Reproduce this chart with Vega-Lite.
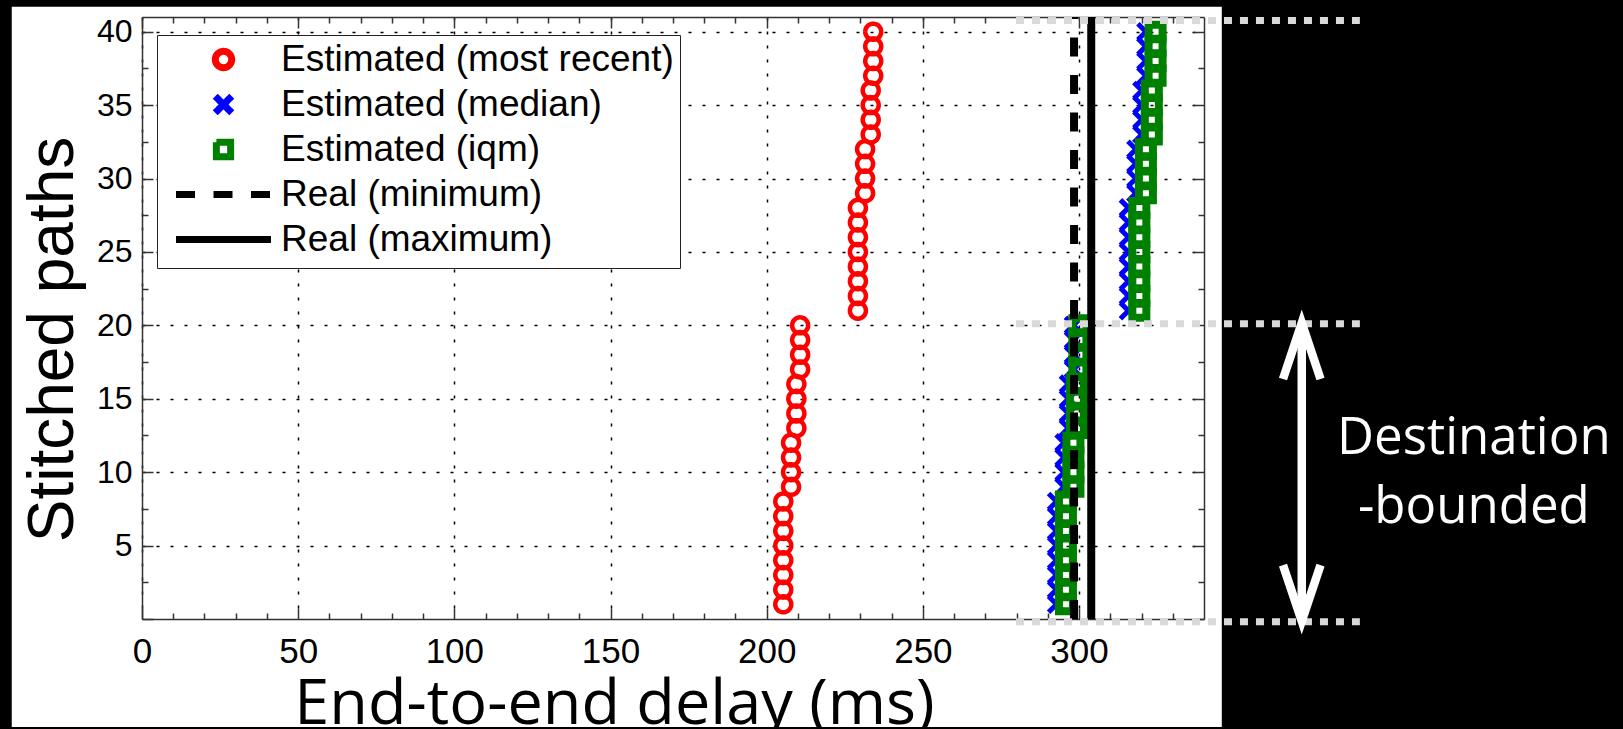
{
  "$schema": "https://vega.github.io/schema/vega-lite/v6.json",
  "width": 1062,
  "height": 602,
  "autosize": {"type": "none"},
  "padding": {"left": 142, "top": 17, "right": 419, "bottom": 110},
  "background": "white",
  "config": {
    "view": {"stroke": null},
    "legend": {
      "orient": "none", "legendX": 15, "legendY": 18, "title": null,
      "fillColor": "white", "strokeColor": "#222", "padding": 6,
      "labelFont": "Liberation Sans", "labelFontSize": 37, "labelColor": "#000", "labelLimit": 1000,
      "symbolSize": 529, "symbolStrokeWidth": 7, "symbolOffset": 42, "labelOffset": 39, "rowPadding": 0,
      "symbolFillColor": "transparent"
    }
  },
  "datasets": {
    "red": [
      {"series": "Estimated (most recent)", "path": 1, "delay": 205.3}, {"series": "Estimated (most recent)", "path": 2, "delay": 205.3},
      {"series": "Estimated (most recent)", "path": 3, "delay": 205.3}, {"series": "Estimated (most recent)", "path": 4, "delay": 205.3},
      {"series": "Estimated (most recent)", "path": 5, "delay": 205.3}, {"series": "Estimated (most recent)", "path": 6, "delay": 205.3},
      {"series": "Estimated (most recent)", "path": 7, "delay": 205.3}, {"series": "Estimated (most recent)", "path": 8, "delay": 205.3},
      {"series": "Estimated (most recent)", "path": 9, "delay": 207.8}, {"series": "Estimated (most recent)", "path": 10, "delay": 207.8},
      {"series": "Estimated (most recent)", "path": 11, "delay": 207.8}, {"series": "Estimated (most recent)", "path": 12, "delay": 207.8},
      {"series": "Estimated (most recent)", "path": 13, "delay": 209.5}, {"series": "Estimated (most recent)", "path": 14, "delay": 209.5},
      {"series": "Estimated (most recent)", "path": 15, "delay": 209.5}, {"series": "Estimated (most recent)", "path": 16, "delay": 209.5},
      {"series": "Estimated (most recent)", "path": 17, "delay": 210.7}, {"series": "Estimated (most recent)", "path": 18, "delay": 210.7},
      {"series": "Estimated (most recent)", "path": 19, "delay": 210.7}, {"series": "Estimated (most recent)", "path": 20, "delay": 210.7},
      {"series": "Estimated (most recent)", "path": 21, "delay": 229.2}, {"series": "Estimated (most recent)", "path": 22, "delay": 229.2},
      {"series": "Estimated (most recent)", "path": 23, "delay": 229.2}, {"series": "Estimated (most recent)", "path": 24, "delay": 229.2},
      {"series": "Estimated (most recent)", "path": 25, "delay": 229.2}, {"series": "Estimated (most recent)", "path": 26, "delay": 229.2},
      {"series": "Estimated (most recent)", "path": 27, "delay": 229.2}, {"series": "Estimated (most recent)", "path": 28, "delay": 229.2},
      {"series": "Estimated (most recent)", "path": 29, "delay": 231.5}, {"series": "Estimated (most recent)", "path": 30, "delay": 231.5},
      {"series": "Estimated (most recent)", "path": 31, "delay": 231.5}, {"series": "Estimated (most recent)", "path": 32, "delay": 231.5},
      {"series": "Estimated (most recent)", "path": 33, "delay": 233.3}, {"series": "Estimated (most recent)", "path": 34, "delay": 233.3},
      {"series": "Estimated (most recent)", "path": 35, "delay": 233.3}, {"series": "Estimated (most recent)", "path": 36, "delay": 233.3},
      {"series": "Estimated (most recent)", "path": 37, "delay": 234.1}, {"series": "Estimated (most recent)", "path": 38, "delay": 234.1},
      {"series": "Estimated (most recent)", "path": 39, "delay": 234.1}, {"series": "Estimated (most recent)", "path": 40, "delay": 234.1}
    ],
    "blue": [
      {"path": 1, "delay": 292.8}, {"path": 2, "delay": 292.8}, {"path": 3, "delay": 292.8}, {"path": 4, "delay": 292.8},
      {"path": 5, "delay": 292.8}, {"path": 6, "delay": 292.8}, {"path": 7, "delay": 292.8}, {"path": 8, "delay": 292.8},
      {"path": 9, "delay": 295.2}, {"path": 10, "delay": 295.2}, {"path": 11, "delay": 295.2}, {"path": 12, "delay": 295.2},
      {"path": 13, "delay": 296.6}, {"path": 14, "delay": 296.6}, {"path": 15, "delay": 296.6}, {"path": 16, "delay": 296.6},
      {"path": 17, "delay": 298.2}, {"path": 18, "delay": 298.2}, {"path": 19, "delay": 298.2}, {"path": 20, "delay": 298.2},
      {"path": 21, "delay": 315.8}, {"path": 22, "delay": 315.8}, {"path": 23, "delay": 315.8}, {"path": 24, "delay": 315.8},
      {"path": 25, "delay": 315.8}, {"path": 26, "delay": 315.8}, {"path": 27, "delay": 315.8}, {"path": 28, "delay": 315.8},
      {"path": 29, "delay": 318.2}, {"path": 30, "delay": 318.2}, {"path": 31, "delay": 318.2}, {"path": 32, "delay": 318.2},
      {"path": 33, "delay": 320.1}, {"path": 34, "delay": 320.1}, {"path": 35, "delay": 320.1}, {"path": 36, "delay": 320.1},
      {"path": 37, "delay": 321.4}, {"path": 38, "delay": 321.4}, {"path": 39, "delay": 321.4}, {"path": 40, "delay": 321.4}
    ],
    "green": [
      {"path": 1, "delay": 295.8}, {"path": 2, "delay": 295.8}, {"path": 3, "delay": 295.8}, {"path": 4, "delay": 295.8},
      {"path": 5, "delay": 295.8}, {"path": 6, "delay": 295.8}, {"path": 7, "delay": 295.8}, {"path": 8, "delay": 295.8},
      {"path": 9, "delay": 298.2}, {"path": 10, "delay": 298.2}, {"path": 11, "delay": 298.2}, {"path": 12, "delay": 298.2},
      {"path": 13, "delay": 299.3}, {"path": 14, "delay": 299.3}, {"path": 15, "delay": 299.3}, {"path": 16, "delay": 299.3},
      {"path": 17, "delay": 300.1}, {"path": 18, "delay": 300.1}, {"path": 19, "delay": 300.1}, {"path": 20, "delay": 300.1},
      {"path": 21, "delay": 319.3}, {"path": 22, "delay": 319.3}, {"path": 23, "delay": 319.3}, {"path": 24, "delay": 319.3},
      {"path": 25, "delay": 319.3}, {"path": 26, "delay": 319.3}, {"path": 27, "delay": 319.3}, {"path": 28, "delay": 319.3},
      {"path": 29, "delay": 321.4}, {"path": 30, "delay": 321.4}, {"path": 31, "delay": 321.4}, {"path": 32, "delay": 321.4},
      {"path": 33, "delay": 323.3}, {"path": 34, "delay": 323.3}, {"path": 35, "delay": 323.3}, {"path": 36, "delay": 323.3},
      {"path": 37, "delay": 324.5}, {"path": 38, "delay": 324.5}, {"path": 39, "delay": 324.5}, {"path": 40, "delay": 324.5}
    ]
  },
  "resolve": {"axis": {"x": "independent", "y": "independent"}},
  "layer": [
    {
      "data": {"values": [{}]},
      "mark": {"type": "rect", "color": "black"},
      "encoding": {
        "x": {"datum": 345.7, "type": "quantitative", "scale": {"domain": [0, 340], "nice": false, "zero": false}, "axis": null},
        "x2": {"datum": 600},
        "y": {"datum": -20, "type": "quantitative", "scale": {"domain": [0, 41], "nice": false, "zero": false}, "axis": null},
        "y2": {"datum": 60}
      }
    },
    {
      "data": {"values": [{}]},
      "mark": {"type": "rect", "color": "black"},
      "encoding": {
        "x": {"datum": -100, "type": "quantitative", "scale": {"domain": [0, 340], "nice": false, "zero": false}, "axis": null},
        "x2": {"datum": -41.7},
        "y": {"datum": -20, "type": "quantitative", "scale": {"domain": [0, 41], "nice": false, "zero": false}, "axis": null},
        "y2": {"datum": 60}
      }
    },
    {
      "data": {"values": [{}]},
      "mark": {"type": "rect", "color": "black"},
      "encoding": {
        "x": {"datum": -100, "type": "quantitative", "scale": {"domain": [0, 340], "nice": false, "zero": false}, "axis": null},
        "x2": {"datum": 600},
        "y": {"datum": 41.7, "type": "quantitative", "scale": {"domain": [0, 41], "nice": false, "zero": false}, "axis": null},
        "y2": {"datum": 60}
      }
    },
    {
      "data": {"values": [{}]},
      "mark": {"type": "rect", "color": "black"},
      "encoding": {
        "x": {"datum": -100, "type": "quantitative", "scale": {"domain": [0, 340], "nice": false, "zero": false}, "axis": null},
        "x2": {"datum": 600},
        "y": {"datum": -7.36, "type": "quantitative", "scale": {"domain": [0, 41], "nice": false, "zero": false}, "axis": null},
        "y2": {"datum": -20}
      }
    },
    {
      "data": {"name": "red"},
      "mark": {"type": "point", "filled": false, "size": 507, "strokeWidth": 4.5, "opacity": 1},
      "encoding": {
        "x": {"field": "delay", "type": "quantitative", "scale": {"domain": [0, 340], "nice": false, "zero": false},
          "axis": {"orient": "bottom", "values": [0, 50, 100, 150, 200, 250, 300], "ticks": false,
            "grid": true, "gridColor": "#000", "gridDash": [3, 11], "gridWidth": 1.5,
            "domain": true, "domainColor": "#333", "domainWidth": 1.5,
            "labels": true, "labelFont": "Liberation Sans", "labelFontSize": 35, "labelColor": "#000", "labelPadding": 15,
            "labelFlush": false, "labelOverlap": false,
            "title": "End-to-end delay (ms)", "titleFont": "Open Sans", "titleFontSize": 63, "titleFontWeight": "normal",
            "titleColor": "#000", "titleX": 472, "titleY": 104, "titleAlign": "center", "titleBaseline": "alphabetic", "titleAngle": 0}},
        "y": {"field": "path", "type": "quantitative", "scale": {"domain": [0, 41], "nice": false, "zero": false},
          "axis": {"orient": "left", "values": [5, 10, 15, 20, 25, 30, 35, 40], "ticks": false,
            "grid": true, "gridColor": "#000", "gridDash": [3, 11], "gridWidth": 1.5,
            "domain": true, "domainColor": "#333", "domainWidth": 1.5,
            "labels": true, "labelFont": "Liberation Sans", "labelFontSize": 32, "labelColor": "#000", "labelPadding": 10,
            "labelFlush": false, "labelOverlap": false,
            "title": "Stitched paths", "titleFont": "Liberation Sans", "titleFontSize": 64, "titleFontWeight": "normal",
            "titleColor": "#000", "titleX": -70, "titleY": 322, "titleAlign": "center", "titleBaseline": "alphabetic", "titleAngle": 270}},
        "color": {"field": "series", "type": "nominal",
          "scale": {"domain": ["Estimated (most recent)", "Estimated (median)", "Estimated (iqm)", "Real (minimum)", "Real (maximum)"],
            "range": ["#ff0000", "#0000ff", "#008000", "#000000", "#000000"]},
          "legend": {"orient": "none", "legendX": 15, "legendY": 18, "title": null}},
        "shape": {"field": "series", "type": "nominal",
          "scale": {"domain": ["Estimated (most recent)", "Estimated (median)", "Estimated (iqm)", "Real (minimum)", "Real (maximum)"],
            "range": [
              "M0.71,0A0.71,0.71,0,1,1,-0.71,0A0.71,0.71,0,1,1,0.71,0ZM-4.13,-0.72M4.13,0.72",
              "M-0.72,-0.72L0.72,0.72M-0.72,0.72L0.72,-0.72M-4.13,-0.72M4.13,0.72",
              "M-0.62,-0.62L0.62,-0.62L0.62,0.62L-0.62,0.62ZM-4.13,-0.72M4.13,0.72",
              "M-4.13,0L4.13,0M-4.13,-0.72M4.13,0.72",
              "M-4.13,0L4.13,0M-4.13,-0.72M4.13,0.72"]},
          "legend": {"orient": "none", "legendX": 15, "legendY": 18, "title": null}},
        "strokeDash": {"field": "series", "type": "nominal",
          "scale": {"domain": ["Estimated (most recent)", "Estimated (median)", "Estimated (iqm)", "Real (minimum)", "Real (maximum)"],
            "range": [[1, 0], [1, 0], [1, 0], [19, 18.5], [1, 0]]},
          "legend": {"orient": "none", "legendX": 15, "legendY": 18, "title": null}}
      }
    },
    {
      "data": {"name": "blue"},
      "mark": {"type": "point", "filled": false, "shape": "M-1,-1L1,1M-1,1L1,-1", "size": 256, "strokeWidth": 5, "color": "#0000ff", "opacity": 1},
      "encoding": {
        "x": {"field": "delay", "type": "quantitative", "scale": {"domain": [0, 340], "nice": false, "zero": false},
          "axis": {"orient": "bottom", "values": [0, 50, 100, 150, 200, 250, 300], "labels": false, "grid": false, "domain": false,
            "ticks": true, "tickSize": -11, "tickColor": "#333", "tickWidth": 1.5, "title": null}},
        "y": {"field": "path", "type": "quantitative", "scale": {"domain": [0, 41], "nice": false, "zero": false},
          "axis": {"orient": "left", "values": [0, 5, 10, 15, 20, 25, 30, 35, 40], "labels": false, "grid": false, "domain": false,
            "ticks": true, "tickSize": -11, "tickColor": "#333", "tickWidth": 1.5, "title": null}}
      }
    },
    {
      "data": {"name": "green"},
      "mark": {"type": "point", "filled": false, "shape": "square", "size": 196, "strokeWidth": 8, "color": "#008000", "opacity": 1},
      "encoding": {
        "x": {"field": "delay", "type": "quantitative", "scale": {"domain": [0, 340], "nice": false, "zero": false},
          "axis": {"orient": "bottom", "values": [10, 20, 30, 40, 60, 70, 80, 90, 110, 120, 130, 140, 160, 170, 180, 190, 210, 220, 230, 240, 260, 270, 280, 290, 310, 320, 330],
            "labels": false, "grid": false, "domain": false,
            "ticks": true, "tickSize": -6, "tickColor": "#333", "tickWidth": 1.5, "title": null}},
        "y": {"field": "path", "type": "quantitative", "scale": {"domain": [0, 41], "nice": false, "zero": false},
          "axis": {"orient": "left", "values": [2.5, 7.5, 12.5, 17.5, 22.5, 27.5, 32.5, 37.5], "labels": false, "grid": false, "domain": false,
            "ticks": true, "tickSize": -6, "tickColor": "#333", "tickWidth": 1.5, "title": null}}
      }
    },
    {
      "data": {"values": [{"series": "Real (minimum)", "delay": 298.4}]},
      "mark": {"type": "rule", "color": "#000", "strokeWidth": 8, "strokeDash": [19, 18.5], "strokeDashOffset": 17},
      "encoding": {
        "x": {"field": "delay", "type": "quantitative", "scale": {"domain": [0, 340], "nice": false, "zero": false},
          "axis": {"orient": "top", "values": [0, 50, 100, 150, 200, 250, 300], "labels": false, "grid": false,
            "domain": true, "domainColor": "#333", "domainWidth": 1.5,
            "ticks": true, "tickSize": -11, "tickColor": "#333", "tickWidth": 1.5, "title": null}}
      }
    },
    {
      "data": {"values": [{"series": "Real (maximum)", "delay": 303.9}]},
      "mark": {"type": "rule", "color": "#000", "strokeWidth": 8},
      "encoding": {
        "x": {"field": "delay", "type": "quantitative", "scale": {"domain": [0, 340], "nice": false, "zero": false},
          "axis": {"orient": "top", "values": [10, 20, 30, 40, 60, 70, 80, 90, 110, 120, 130, 140, 160, 170, 180, 190, 210, 220, 230, 240, 260, 270, 280, 290, 310, 320, 330],
            "labels": false, "grid": false, "domain": false,
            "ticks": true, "tickSize": -6, "tickColor": "#333", "tickWidth": 1.5, "title": null}}
      }
    },
    {
      "data": {"values": [{"level": 40.77}, {"level": 20.11}, {"level": -0.18}]},
      "mark": {"type": "rule", "color": "#d9d9d9", "strokeWidth": 7, "strokeDash": [8, 8]},
      "encoding": {
        "x": {"datum": 279.8, "type": "quantitative", "scale": {"domain": [0, 340], "nice": false, "zero": false}, "axis": null},
        "x2": {"datum": 389.9},
        "y": {"field": "level", "type": "quantitative", "scale": {"domain": [0, 41], "nice": false, "zero": false},
          "axis": {"orient": "right", "values": [0, 5, 10, 15, 20, 25, 30, 35, 40], "labels": false, "grid": false,
            "domain": true, "domainColor": "#333", "domainWidth": 1.5,
            "ticks": true, "tickSize": -11, "tickColor": "#333", "tickWidth": 1.5, "title": null}}
      }
    },
    {
      "data": {"values": [{}]},
      "mark": {"type": "rule", "color": "white", "strokeWidth": 8.5},
      "encoding": {
        "x": {"datum": 371.3, "type": "quantitative", "scale": {"domain": [0, 340], "nice": false, "zero": false}, "axis": null},
        "y": {"datum": -0.14, "type": "quantitative", "scale": {"domain": [0, 41], "nice": false, "zero": false}, "axis": null},
        "y2": {"datum": 20.16}
      }
    },
    {
      "data": {"values": [{}]},
      "mark": {"type": "point", "filled": false, "shape": "M-0.67,2L0,0L0.67,2", "size": 3136, "strokeWidth": 8.5, "color": "white", "opacity": 1, "strokeJoin": "miter"},
      "encoding": {
        "x": {"datum": 371.3, "type": "quantitative", "scale": {"domain": [0, 340], "nice": false, "zero": false}, "axis": null},
        "y": {"datum": 20.16, "type": "quantitative", "scale": {"domain": [0, 41], "nice": false, "zero": false}, "axis": null}
      }
    },
    {
      "data": {"values": [{}]},
      "mark": {"type": "point", "filled": false, "shape": "M-0.67,-2L0,0L0.67,-2", "size": 3136, "strokeWidth": 8.5, "color": "white", "opacity": 1, "strokeJoin": "miter"},
      "encoding": {
        "x": {"datum": 371.3, "type": "quantitative", "scale": {"domain": [0, 340], "nice": false, "zero": false}, "axis": null},
        "y": {"datum": -0.14, "type": "quantitative", "scale": {"domain": [0, 41], "nice": false, "zero": false}, "axis": null}
      }
    },
    {
      "data": {"values": [{"note": "Destination", "x": 426.4, "y": 11.27}, {"note": "-bounded", "x": 426.4, "y": 6.54}]},
      "mark": {"type": "text", "font": "Open Sans", "fontSize": 51, "color": "white", "align": "center", "baseline": "alphabetic"},
      "encoding": {
        "text": {"field": "note"},
        "x": {"field": "x", "type": "quantitative", "scale": {"domain": [0, 340], "nice": false, "zero": false}, "axis": null},
        "y": {"field": "y", "type": "quantitative", "scale": {"domain": [0, 41], "nice": false, "zero": false},
          "axis": {"orient": "right", "values": [2.5, 7.5, 12.5, 17.5, 22.5, 27.5, 32.5, 37.5], "labels": false, "grid": false, "domain": false,
            "ticks": true, "tickSize": -6, "tickColor": "#333", "tickWidth": 1.5, "title": null}}
      }
    }
  ]
}
